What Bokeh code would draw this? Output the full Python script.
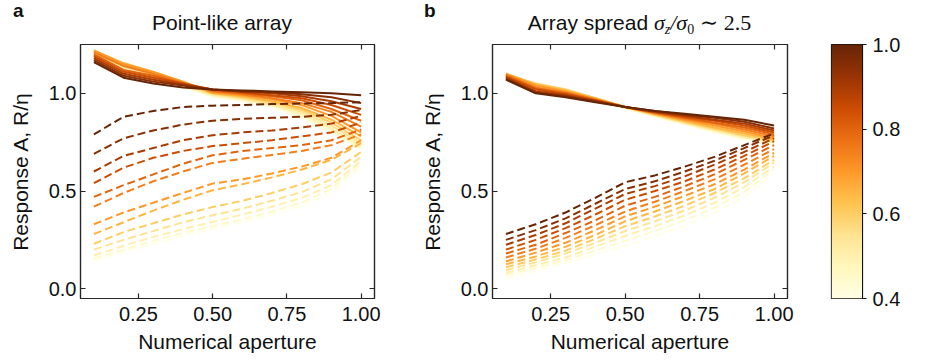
import numpy as np
from bokeh.plotting import figure
from bokeh.layouts import row, column
from bokeh.models import (FixedTicker, NumeralTickFormatter, LinearAxis, Label,
                          LinearColorMapper, Range1d, Div)
from bokeh.embed import file_html
from bokeh.resources import INLINE

# ---------------- data ----------------
NA = [0.1, 0.2, 0.3, 0.4, 0.5, 0.6, 0.7, 0.8, 0.9, 1.0]
FILLING = [0.40, 0.45, 0.50, 0.55, 0.60, 0.65, 0.70, 0.75, 0.80, 0.85, 0.90, 0.95, 1.00]

# Panel a (point-like array): solid = A, dashed = R/eta ; rows follow FILLING
A_POINT = [
    [1.18, 1.12, 1.07, 1.03, 0.985, 0.96, 0.93, 0.875, 0.80, 0.71],
    [1.185, 1.125, 1.075, 1.035, 0.985, 0.965, 0.935, 0.885, 0.81, 0.72],
    [1.19, 1.13, 1.08, 1.04, 0.99, 0.97, 0.94, 0.895, 0.82, 0.73],
    [1.20, 1.14, 1.09, 1.045, 0.995, 0.975, 0.945, 0.905, 0.835, 0.745],
    [1.21, 1.15, 1.10, 1.05, 1.0, 0.98, 0.955, 0.915, 0.85, 0.76],
    [1.22, 1.155, 1.11, 1.06, 1.0, 0.985, 0.96, 0.925, 0.865, 0.78],
    [1.22, 1.15, 1.11, 1.06, 1.005, 0.99, 0.97, 0.94, 0.885, 0.80],
    [1.21, 1.14, 1.10, 1.055, 1.01, 0.995, 0.975, 0.95, 0.905, 0.83],
    [1.20, 1.12, 1.09, 1.05, 1.015, 1.0, 0.985, 0.965, 0.92, 0.86],
    [1.19, 1.11, 1.08, 1.05, 1.02, 1.005, 0.99, 0.975, 0.94, 0.89],
    [1.18, 1.10, 1.07, 1.045, 1.02, 1.01, 1.0, 0.985, 0.96, 0.92],
    [1.17, 1.09, 1.06, 1.04, 1.02, 1.01, 1.005, 0.995, 0.98, 0.95],
    [1.16, 1.08, 1.05, 1.03, 1.02, 1.015, 1.01, 1.005, 1.0, 0.99],
]
R_POINT = [
    [0.145, 0.19, 0.23, 0.27, 0.305, 0.34, 0.38, 0.425, 0.49, 0.625],
    [0.155, 0.20, 0.245, 0.285, 0.32, 0.355, 0.395, 0.44, 0.51, 0.64],
    [0.17, 0.22, 0.265, 0.305, 0.342, 0.38, 0.42, 0.465, 0.53, 0.655],
    [0.20, 0.25, 0.295, 0.34, 0.376, 0.41, 0.45, 0.495, 0.56, 0.675],
    [0.23, 0.29, 0.335, 0.38, 0.418, 0.45, 0.49, 0.535, 0.595, 0.70],
    [0.28, 0.34, 0.40, 0.455, 0.504, 0.535, 0.57, 0.61, 0.66, 0.745],
    [0.33, 0.39, 0.44, 0.49, 0.538, 0.56, 0.59, 0.625, 0.67, 0.76],
    [0.42, 0.49, 0.55, 0.60, 0.644, 0.665, 0.685, 0.705, 0.735, 0.79],
    [0.47, 0.53, 0.585, 0.64, 0.683, 0.705, 0.72, 0.735, 0.76, 0.815],
    [0.54, 0.62, 0.67, 0.705, 0.73, 0.745, 0.76, 0.78, 0.80, 0.85],
    [0.60, 0.68, 0.72, 0.76, 0.786, 0.80, 0.81, 0.825, 0.845, 0.885],
    [0.69, 0.77, 0.81, 0.84, 0.86, 0.87, 0.875, 0.88, 0.89, 0.915],
    [0.79, 0.88, 0.91, 0.93, 0.937, 0.94, 0.945, 0.948, 0.95, 0.955],
]

# Panel b (array spread)
A_SPREAD = [
    [1.08, 1.04, 1.015, 0.97, 0.925, 0.88, 0.84, 0.80, 0.765, 0.74],
    [1.085, 1.04, 1.015, 0.97, 0.925, 0.885, 0.845, 0.805, 0.77, 0.745],
    [1.09, 1.045, 1.02, 0.975, 0.925, 0.885, 0.845, 0.81, 0.775, 0.75],
    [1.095, 1.05, 1.02, 0.975, 0.93, 0.89, 0.85, 0.815, 0.78, 0.755],
    [1.10, 1.05, 1.02, 0.975, 0.93, 0.89, 0.855, 0.82, 0.785, 0.76],
    [1.10, 1.045, 1.015, 0.975, 0.93, 0.895, 0.86, 0.825, 0.795, 0.765],
    [1.10, 1.04, 1.01, 0.97, 0.93, 0.895, 0.865, 0.835, 0.805, 0.77],
    [1.095, 1.03, 1.005, 0.97, 0.93, 0.90, 0.87, 0.845, 0.815, 0.78],
    [1.09, 1.025, 1.0, 0.965, 0.93, 0.90, 0.875, 0.85, 0.825, 0.79],
    [1.085, 1.02, 0.995, 0.965, 0.93, 0.905, 0.88, 0.86, 0.835, 0.80],
    [1.08, 1.01, 0.99, 0.96, 0.93, 0.905, 0.885, 0.865, 0.845, 0.81],
    [1.075, 1.005, 0.985, 0.96, 0.93, 0.91, 0.89, 0.875, 0.855, 0.82],
    [1.07, 1.00, 0.98, 0.955, 0.93, 0.91, 0.895, 0.88, 0.865, 0.835],
]
R_SPREAD = [
    [0.055, 0.09, 0.13, 0.175, 0.22, 0.27, 0.325, 0.39, 0.47, 0.59],
    [0.07, 0.105, 0.145, 0.195, 0.245, 0.295, 0.35, 0.415, 0.495, 0.61],
    [0.08, 0.12, 0.16, 0.215, 0.27, 0.32, 0.375, 0.44, 0.52, 0.625],
    [0.095, 0.135, 0.18, 0.235, 0.295, 0.345, 0.40, 0.465, 0.545, 0.645],
    [0.11, 0.15, 0.195, 0.255, 0.32, 0.37, 0.425, 0.49, 0.565, 0.66],
    [0.125, 0.165, 0.215, 0.275, 0.345, 0.395, 0.45, 0.51, 0.59, 0.68],
    [0.14, 0.185, 0.235, 0.30, 0.37, 0.42, 0.475, 0.535, 0.61, 0.695],
    [0.16, 0.205, 0.26, 0.325, 0.395, 0.445, 0.50, 0.56, 0.635, 0.715],
    [0.18, 0.225, 0.285, 0.35, 0.425, 0.47, 0.525, 0.585, 0.66, 0.735],
    [0.20, 0.25, 0.31, 0.38, 0.455, 0.50, 0.55, 0.61, 0.68, 0.755],
    [0.225, 0.275, 0.335, 0.41, 0.485, 0.525, 0.575, 0.635, 0.70, 0.77],
    [0.25, 0.30, 0.36, 0.435, 0.51, 0.55, 0.60, 0.655, 0.72, 0.785],
    [0.28, 0.33, 0.39, 0.465, 0.545, 0.58, 0.625, 0.675, 0.735, 0.795],
]

X_TICKS = [0.25, 0.50, 0.75, 1.00]
Y_TICKS = [0.0, 0.5, 1.0]
CB_TICKS = [0.4, 0.6, 0.8, 1.0]
ETA_LOW, ETA_HIGH = 0.4, 1.0

TITLE_A = "Point-like array"
TITLE_B_TEXT = "Array spread"
XLABEL = "Numerical aperture"
YLABEL = "Response A, R/η"
CBLABEL = "Filling η"

# ---------------- colormap (YlOrBr) ----------------
YLORBR = ['#ffffe5', '#fff7bc', '#fee391', '#fec44f', '#fe9929',
          '#ec7014', '#cc4c02', '#993404', '#662506']
_rgb = np.array([[int(c[i:i + 2], 16) for i in (1, 3, 5)] for c in YLORBR], float)
_pos = np.linspace(0, 1, len(YLORBR))


def cmap(t):
    t = min(max(t, 0.0), 1.0)
    r, g, b = (np.interp(t, _pos, _rgb[:, k]) for k in range(3))
    return "#%02x%02x%02x" % (int(round(r)), int(round(g)), int(round(b)))


PAL256 = [cmap(t) for t in np.linspace(0, 1, 256)]

FONT = "Liberation Sans"
FRAME = "#262626"
TXT = "#111111"

W_A, W_B, W_C = 400, 400, 133
HEAD = 40
H = 320
TOP, BOTTOM = 4, 62


def make_panel(width, left, right, solid, dashed):
    p = figure(width=width, height=H, x_range=Range1d(0.055, 1.045),
               y_range=Range1d(-0.05, 1.25), output_backend="svg",
               toolbar_location=None, min_border_left=left,
               min_border_right=right, min_border_top=TOP,
               min_border_bottom=BOTTOM)
    p.grid.visible = False
    p.outline_line_color = FRAME
    p.outline_line_width = 1.2

    for ax, ticks, fmt in ((p.xaxis[0], X_TICKS, "0.00"), (p.yaxis[0], Y_TICKS, "0.0")):
        ax.ticker = FixedTicker(ticks=ticks)
        ax.formatter = NumeralTickFormatter(format=fmt)
        ax.major_tick_in = 5
        ax.major_tick_out = 0
        ax.minor_tick_line_color = None
        ax.axis_line_color = FRAME
        ax.axis_line_width = 1.2
        ax.major_tick_line_color = FRAME
        ax.major_tick_line_width = 1.2
        ax.major_label_text_font = FONT
        ax.major_label_text_font_size = "20px"
        ax.major_label_text_color = TXT
        ax.axis_label_text_font = FONT
        ax.axis_label_text_font_size = "21px"
        ax.axis_label_text_font_style = "normal"
        ax.axis_label_text_color = TXT
    p.xaxis.axis_label = XLABEL
    p.xaxis.major_label_standoff = 8
    p.xaxis.axis_label_standoff = 6
    p.yaxis.axis_label = YLABEL
    p.yaxis.major_label_standoff = 4
    p.yaxis.axis_label_standoff = 14

    # mirrored axes (ticks only) on the right and top
    for loc, ticks in (("right", Y_TICKS), ("above", X_TICKS)):
        ax = LinearAxis(ticker=FixedTicker(ticks=ticks), major_tick_in=5,
                        major_tick_out=0, minor_tick_line_color=None,
                        axis_line_color=FRAME, axis_line_width=1.2,
                        major_tick_line_color=FRAME, major_tick_line_width=1.2,
                        major_label_text_font_size="1px",
                        major_label_text_color=None,
                        major_label_standoff=0)
        p.add_layout(ax, loc)

    for eta, ys, yd in zip(FILLING, solid, dashed):
        col = cmap((eta - ETA_LOW) / (ETA_HIGH - ETA_LOW))
        p.line(NA, ys, line_color=col, line_width=2.0)
        p.line(NA, yd, line_color=col, line_width=2.0, line_dash="8 4")
    return p


pa = make_panel(W_A, 80, 26, A_POINT, R_POINT)
pb = make_panel(W_B, 92, 13, A_SPREAD, R_SPREAD)

# ---------------- colorbar (full height, own top margin) ----------------
cb = figure(width=W_C, height=HEAD + H, x_range=Range1d(0, 1),
            y_range=Range1d(ETA_LOW, ETA_HIGH), output_backend="svg",
            toolbar_location=None, min_border_left=31, min_border_right=71,
            min_border_top=HEAD + TOP, min_border_bottom=BOTTOM,
            x_axis_location=None, y_axis_location="right")
cb.grid.visible = False
cb.outline_line_color = TXT
cb.outline_line_width = 1.2
mapper = LinearColorMapper(palette=PAL256, low=ETA_LOW, high=ETA_HIGH)
grad = np.linspace(ETA_LOW, ETA_HIGH, 256).reshape(256, 1)
cb.image(image=[grad], x=0, y=ETA_LOW, dw=1, dh=ETA_HIGH - ETA_LOW,
         color_mapper=mapper)
ax = cb.yaxis[0]
ax.ticker = FixedTicker(ticks=CB_TICKS)
ax.formatter = NumeralTickFormatter(format="0.0")
ax.major_tick_in = 0
ax.major_tick_out = 4
ax.minor_tick_line_color = None
ax.axis_line_color = TXT
ax.major_tick_line_color = TXT
ax.major_label_text_font = FONT
ax.major_label_text_font_size = "20px"
ax.major_label_text_color = TXT
ax.major_label_standoff = 6
cb.add_layout(Label(x=(922 - 831) / 31,
                    y=ETA_HIGH - (170 - 44) / 254 * (ETA_HIGH - ETA_LOW),
                    text=CBLABEL, angle=np.pi / 2, text_align="center",
                    text_baseline="middle", text_font=FONT,
                    text_font_size="21px", text_color=TXT))

# ---------------- header (panel letters and titles) ----------------
serif = "font-family:'Liberation Serif','DejaVu Serif',serif;"
head_html = (
    f"<div style=\"position:relative;width:800px;height:{HEAD}px;"
    f"font-family:'Liberation Sans',Arial,sans-serif;color:{TXT};\">"
    "<span style=\"position:absolute;left:13px;top:0px;font-size:19px;"
    "line-height:22px;font-weight:bold;\">a</span>"
    "<span style=\"position:absolute;left:0px;width:444px;top:12px;"
    f"text-align:center;font-size:21px;line-height:22px;\">{TITLE_A}</span>"
    "<span style=\"position:absolute;left:424px;top:0px;font-size:19px;"
    "line-height:22px;font-weight:bold;\">b</span>"
    "<span style=\"position:absolute;left:400px;width:479px;top:12px;"
    "text-align:center;font-size:21px;line-height:22px;white-space:nowrap;\">"
    f"{TITLE_B_TEXT} "
    f"<span style=\"{serif}font-style:italic;font-size:22px;\">σ</span>"
    f"<span style=\"{serif}font-style:italic;font-size:14px;position:relative;top:4px;\">z</span>"
    f"<span style=\"{serif}font-style:italic;font-size:22px;\">/σ</span>"
    f"<span style=\"{serif}font-size:14px;position:relative;top:4px;\">0</span>"
    f"<span style=\"{serif}font-size:22px;\"> ∼ 2.5</span>"
    "</span></div>"
)
head = Div(text=head_html, width=800, height=HEAD, margin=0)

left_block = column(head, row(pa, pb, margin=0), margin=0)
layout = row(left_block, cb, margin=0)
open("out.html", "w").write(file_html(layout, INLINE))
